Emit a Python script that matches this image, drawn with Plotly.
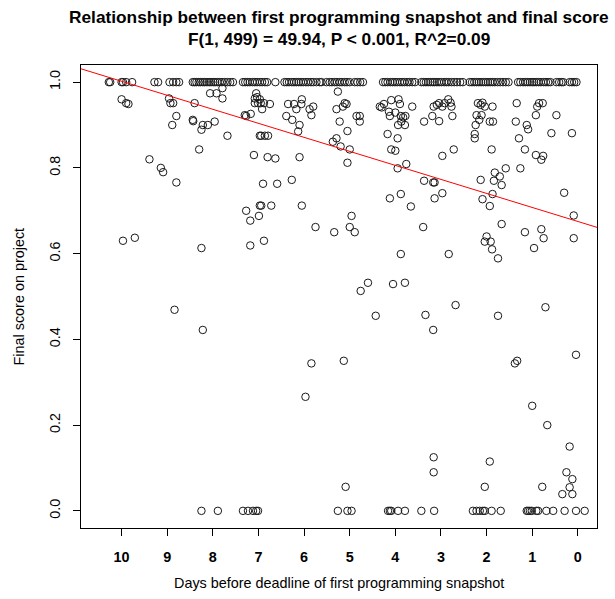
import plotly.graph_objects as go

# ---- data ----
days_one = [10.28, 10.25, 10.00, 9.97, 9.90, 9.77, 9.28, 9.20, 8.95, 8.87, 8.80, 8.74,
            8.44, 8.40, 8.36, 8.31, 8.27, 8.22, 8.18, 8.13, 8.08, 8.04, 7.99, 7.95, 7.90,
            7.85, 7.80, 7.74, 7.68, 7.62, 7.56,
            7.34, 7.29, 7.24, 7.19, 7.13, 7.08, 7.03, 6.97, 6.92, 6.86, 6.81,
            6.63,
            6.43, 6.38, 6.33, 6.27, 6.22, 6.17, 6.12, 6.07, 6.02, 5.96, 5.91, 5.85, 5.80,
            5.73, 5.66, 5.62, 5.51,
            5.44, 5.39, 5.33, 5.28, 5.22, 5.17, 5.11, 5.06, 5.00,
            4.89, 4.83, 4.77, 4.71,
            4.27, 4.22, 4.17, 4.11, 4.06, 4.01, 3.96, 3.90, 3.85, 3.80, 3.74, 3.69, 3.63, 3.57,
            3.43, 3.38, 3.33, 3.28, 3.23, 3.18, 3.14, 3.09, 3.04, 2.99, 2.93, 2.88, 2.83,
            2.77, 2.71, 2.65, 2.58, 2.52,
            2.37, 2.32, 2.27, 2.22, 2.17, 2.12, 2.07, 2.02, 1.97, 1.92, 1.87, 1.82, 1.76,
            1.70, 1.64, 1.58, 1.52,
            1.31, 1.26, 1.20, 1.15, 1.10, 1.05, 1.00, 0.96, 0.91, 0.86, 0.81, 0.75, 0.70,
            0.65, 0.60,
            0.47, 0.41, 0.36, 0.32,
            0.18, 0.13, 0.08, 0.03]

days_zero = [8.25, 7.89, 7.34, 7.23, 7.12, 7.05, 7.01, 5.26, 5.05, 4.96, 4.16, 4.12,
             4.09, 3.94, 3.79, 3.43, 3.15, 2.30, 2.22, 2.15, 2.08, 2.04, 1.89, 1.69,
             1.12, 1.09, 1.05, 1.01, 0.91, 0.87, 0.69, 0.54, 0.29, 0.04, -0.15]

mid_days = [10.00, 9.90, 9.85, 8.96, 8.93, 8.87, 8.80, 8.89, 8.40, 8.44, 8.43, 8.22, 8.11,
            7.96, 8.25, 7.68, 8.30, 9.39, 9.14, 9.09, 8.80, 8.06, 7.92, 7.79, 7.79, 7.05,
            7.08, 7.08, 7.01, 7.30, 7.27, 7.17, 6.97, 7.10, 7.27, 7.18, 6.97, 6.99,
            9.97, 9.71, 8.25, 7.18, 8.84, 8.22,
            7.03, 6.97, 6.95, 6.88, 6.75, 6.92,
            6.35, 6.22, 6.17, 6.06, 6.05, 5.88, 5.80,
            6.39, 6.26, 6.10, 6.13, 5.84,
            6.94, 6.86, 6.79,
            6.80, 6.63, 6.10,
            5.26, 5.11, 5.07, 5.15, 5.29, 5.22,
            4.85, 4.78, 4.78, 5.05,
            5.29, 5.37, 5.20, 5.00, 5.05,
            6.90, 6.59, 6.27,
            6.94, 6.72, 6.05,
            4.96,
            4.34, 4.30, 4.25, 4.09, 3.93, 3.90, 3.63,
            4.14, 4.12, 4.00, 3.88, 3.83, 3.78, 3.87, 3.94, 3.79, 3.37,
            4.17, 3.95, 4.09, 4.00, 3.95, 3.76, 3.37, 3.17,
            4.12, 3.88, 3.66,
            6.88, 5.75, 5.34, 5.00, 4.89, 3.39, 3.88, 4.60, 4.76, 4.05, 3.79, 4.43, 3.34,
            3.17, 5.84, 5.13,
            5.97, 5.09, 3.16, 3.16,
            3.09, 3.04, 2.97, 2.92, 2.84, 2.79, 2.77, 3.16,
            3.19, 3.04, 2.75, 2.26, 2.97, 2.72, 3.14, 3.14, 2.97,
            2.19, 2.13, 2.09, 2.04, 1.87, 2.22, 2.11, 2.16, 2.24, 1.93, 1.86,
            2.26, 1.89,
            1.58, 1.82, 1.71, 1.84, 1.67, 2.13, 1.87, 2.09, 1.93,
            1.34, 0.89, 0.85, 0.77, 0.92, 1.12, 1.09, 1.36, 0.58, 0.47, 0.13,
            1.29, 1.16, 0.92, 0.76, 0.80, 1.26,
            0.30, 0.09,
            1.67, 1.16, 0.80, 0.75, 0.96, 0.09, 2.00, 2.04, 1.91, 1.88, 1.75, 2.83, 2.68,
            1.75, 0.71, 1.38, 1.33, 0.04,
            1.93, 2.04, 1.00, 0.67, 0.18, 0.25, 0.12, 0.18, 0.12, 0.34, 0.78]

mid_scores = [0.960, 0.951, 0.949, 0.962, 0.951, 0.951, 0.921, 0.900, 0.951, 0.912, 0.909,
              0.900, 0.900, 0.908, 0.889, 0.875, 0.843, 0.820, 0.800, 0.790, 0.766, 0.974,
              0.974, 0.986, 0.962, 0.974, 0.962, 0.951, 0.951, 0.923, 0.921, 0.926, 0.875,
              0.830, 0.700, 0.677, 0.712, 0.688,
              0.630, 0.637, 0.613, 0.619, 0.469, 0.422,
              0.965, 0.960, 0.951, 0.951, 0.949, 0.937,
              0.949, 0.949, 0.937, 0.949, 0.960, 0.937, 0.943,
              0.921, 0.912, 0.900, 0.885, 0.923,
              0.875, 0.875, 0.875,
              0.825, 0.822, 0.825,
              0.978, 0.951, 0.949, 0.943, 0.937, 0.908,
              0.921, 0.921, 0.908, 0.886,
              0.869, 0.861, 0.850, 0.843, 0.812,
              0.763, 0.763, 0.772,
              0.712, 0.712, 0.712,
              0.688,
              0.943, 0.941, 0.949, 0.958, 0.960, 0.949, 0.943,
              0.931, 0.921, 0.929, 0.921, 0.918, 0.921, 0.908, 0.900, 0.900, 0.908,
              0.879, 0.869, 0.843, 0.840, 0.799, 0.809, 0.770, 0.766,
              0.729, 0.739, 0.710,
              0.630, 0.662, 0.650, 0.662, 0.650, 0.662, 0.599, 0.532, 0.513, 0.529, 0.532,
              0.455, 0.457, 0.422, 0.344, 0.350,
              0.266, 0.056, 0.125, 0.090,
              0.947, 0.951, 0.943, 0.951, 0.960, 0.952, 0.943, 0.943,
              0.921, 0.909, 0.921, 0.879, 0.828, 0.843, 0.766, 0.729, 0.741,
              0.951, 0.947, 0.952, 0.943, 0.943, 0.923, 0.923, 0.912, 0.900, 0.908, 0.908,
              0.869, 0.843,
              0.799, 0.789, 0.780, 0.770, 0.760, 0.772, 0.739, 0.727, 0.711,
              0.951, 0.943, 0.951, 0.951, 0.923, 0.900, 0.890, 0.908, 0.881, 0.923, 0.881,
              0.869, 0.843, 0.830, 0.828, 0.819, 0.799,
              0.742, 0.689,
              0.669, 0.650, 0.657, 0.636, 0.613, 0.636, 0.640, 0.628, 0.628, 0.610, 0.589,
              0.599, 0.480, 0.455, 0.475, 0.344, 0.350, 0.364,
              0.115, 0.056, 0.245, 0.200, 0.150, 0.090, 0.074, 0.055, 0.039, 0.039, 0.056]

x_ticks = [10, 9, 8, 7, 6, 5, 4, 3, 2, 1, 0]
y_ticks = [0.0, 0.2, 0.4, 0.6, 0.8, 1.0]
y_tick_labels = ["0.0", "0.2", "0.4", "0.6", "0.8", "1.0"]

fit_intercept = 0.675
fit_slope = 0.0327

title_line1 = "Relationship between first programming snapshot and final score"
title_line2 = "F(1, 499) = 49.94, P < 0.001, R^2=0.09"
x_label = "Days before deadline of first programming snapshot"
y_label = "Final score on project"

# ---- figure ----
x_range = [10.89, -0.42]
y_range = [-0.04, 1.04]

all_days = days_one + days_zero + mid_days
all_scores = [1.0] * len(days_one) + [0.0] * len(days_zero) + mid_scores

FONT = "Liberation Sans, Arial, Helvetica, sans-serif"

fig = go.Figure()
fig.add_trace(go.Scatter(
    x=all_days, y=all_scores, mode="markers",
    marker=dict(symbol="circle-open", size=7.5, color="#1a1a1a", line=dict(width=1)),
    hoverinfo="x+y", showlegend=False))

fit_x = list(x_range)
fit_y = [fit_intercept + fit_slope * v for v in fit_x]
fig.add_trace(go.Scatter(x=fit_x, y=fit_y, mode="lines",
                         line=dict(color="#ff0000", width=1), showlegend=False,
                         hoverinfo="skip"))

fig.update_layout(
    width=615, height=599,
    margin=dict(l=81, r=18, t=65, b=71),
    paper_bgcolor="white", plot_bgcolor="white",
    font=dict(family=FONT, size=14.4, color="black"),
    showlegend=False,
)
fig.update_xaxes(range=x_range, tickmode="array", tickvals=x_ticks,
                 ticktext=[str(t) for t in x_ticks],
                 showgrid=False, zeroline=False, showline=True, mirror=True,
                 linecolor="black", linewidth=1, ticks="outside", ticklen=7,
                 tickcolor="black", tickwidth=1, ticklabelstandoff=9,
                 tickfont=dict(family=FONT, size=14.4, color="black", weight="bold"))
fig.update_yaxes(range=y_range, tickmode="array", tickvals=y_ticks,
                 ticktext=y_tick_labels, tickangle=-90,
                 showgrid=False, zeroline=False, showline=True, mirror=True,
                 linecolor="black", linewidth=1, ticks="outside", ticklen=7,
                 tickcolor="black", tickwidth=1, ticklabelstandoff=7,
                 tickfont=dict(family=FONT, size=14.4, color="black"))

fig.add_annotation(text="<b>" + title_line1 + "</b>", xref="paper", yref="paper",
                   x=0.5, y=1, yshift=48, xanchor="center", yanchor="middle",
                   showarrow=False, font=dict(family=FONT, size=17.3, color="black"))
fig.add_annotation(text="<b>" + title_line2 + "</b>", xref="paper", yref="paper",
                   x=0.5, y=1, yshift=26, xanchor="center", yanchor="middle",
                   showarrow=False, font=dict(family=FONT, size=17.3, color="black"))
fig.add_annotation(text=x_label, xref="paper", yref="paper",
                   x=0.5, y=0, yshift=-55, xanchor="center", yanchor="middle",
                   showarrow=False, font=dict(family=FONT, size=14.4, color="black"))
fig.add_annotation(text=y_label, xref="paper", yref="paper", textangle=-90,
                   x=0, xshift=-63, y=0.5, xanchor="center", yanchor="middle",
                   showarrow=False, font=dict(family=FONT, size=14.4, color="black"))

fig.write_html("out.html")
